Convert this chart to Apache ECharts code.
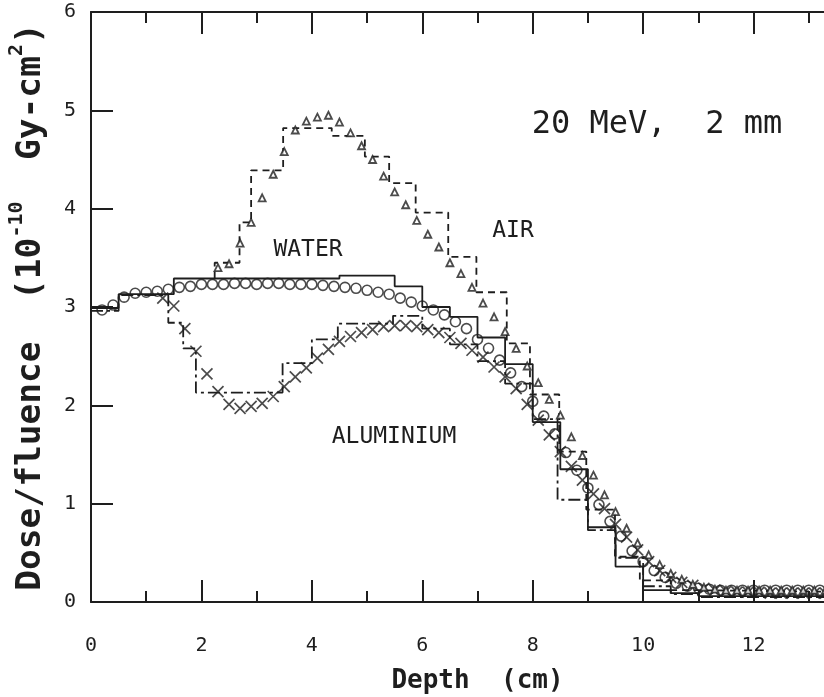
<!DOCTYPE html>
<html><head><meta charset="utf-8">
<script src="https://cdn.jsdelivr.net/npm/echarts@6/dist/echarts.min.js"></script>
<style>html,body{margin:0;padding:0;background:#fff}#c{width:824px;height:697px}</style>
</head><body><div id="c"></div>
<script>
// ---- tick labels ----
const xTickLabels = ['0','2','4','6','8','10','12','14'];
const yTickLabels = ['0','1','2','3','4','5','6'];

// ---- WATER Monte Carlo points (circles) ----
const waterDepth = [0.2,0.4,0.6,0.8,1.0,1.2,1.4,1.6,1.8,2.0,2.2,2.4,2.6,2.8,3.0,3.2,3.4,3.6,3.8,4.0,4.2,4.4,4.6,4.8,5.0,5.2,5.4,5.6,5.8,6.0,6.2,6.4,6.6,6.8,7.0,7.2,7.4,7.6,7.8,8.0,8.2,8.4,8.6,8.8,9.0,9.2,9.4,9.6,9.8,10.0,10.2,10.4,10.6,10.8,11.0,11.2,11.4,11.6,11.8,12.0,12.2,12.4,12.6,12.8,13.0,13.2,13.4];
const waterDose  = [2.97,3.02,3.10,3.14,3.15,3.16,3.18,3.20,3.21,3.23,3.23,3.23,3.24,3.24,3.23,3.24,3.24,3.23,3.23,3.23,3.22,3.21,3.20,3.19,3.17,3.15,3.13,3.09,3.05,3.01,2.97,2.92,2.85,2.78,2.67,2.58,2.46,2.33,2.19,2.04,1.89,1.71,1.52,1.34,1.16,0.99,0.82,0.67,0.52,0.41,0.32,0.25,0.19,0.16,0.14,0.13,0.12,0.12,0.12,0.12,0.12,0.12,0.12,0.12,0.12,0.12,0.12];

// ---- ALUMINIUM points (crosses) ----
const alDepth = [1.3,1.5,1.7,1.9,2.1,2.3,2.5,2.7,2.9,3.1,3.3,3.5,3.7,3.9,4.1,4.3,4.5,4.7,4.9,5.1,5.3,5.5,5.7,5.9,6.1,6.3,6.5,6.7,6.9,7.1,7.3,7.5,7.7,7.9,8.1,8.3,8.5,8.7,8.9,9.1,9.3,9.5,9.7,9.9,10.1,10.3,10.5,10.7,10.9,11.1,11.3,11.5,11.7,11.9,12.1,12.3,12.5,12.7,12.9,13.1,13.3];
const alDose  = [3.09,3.01,2.78,2.55,2.32,2.14,2.01,1.97,1.99,2.02,2.09,2.19,2.29,2.38,2.48,2.57,2.65,2.70,2.74,2.77,2.80,2.81,2.81,2.80,2.77,2.74,2.69,2.63,2.56,2.49,2.39,2.29,2.17,2.01,1.85,1.70,1.53,1.38,1.24,1.10,0.95,0.79,0.66,0.53,0.41,0.32,0.25,0.20,0.17,0.14,0.12,0.11,0.10,0.10,0.10,0.09,0.09,0.09,0.09,0.09,0.09];

// ---- AIR points (triangles) ----
const airDepth = [2.3,2.5,2.7,2.9,3.1,3.3,3.5,3.7,3.9,4.1,4.3,4.5,4.7,4.9,5.1,5.3,5.5,5.7,5.9,6.1,6.3,6.5,6.7,6.9,7.1,7.3,7.5,7.7,7.9,8.1,8.3,8.5,8.7,8.9,9.1,9.3,9.5,9.7,9.9,10.1,10.3,10.5,10.7,10.9,11.1,11.3,11.5,11.7,11.9,12.1,12.3,12.5,12.7,12.9,13.1,13.3];
const airDose  = [3.40,3.44,3.65,3.86,4.11,4.35,4.58,4.80,4.89,4.93,4.95,4.88,4.77,4.64,4.50,4.33,4.17,4.04,3.88,3.74,3.61,3.45,3.34,3.20,3.04,2.90,2.75,2.58,2.40,2.23,2.06,1.90,1.68,1.49,1.29,1.09,0.92,0.75,0.60,0.48,0.38,0.29,0.23,0.18,0.15,0.13,0.12,0.12,0.12,0.12,0.12,0.12,0.12,0.12,0.12,0.12];

// ---- histograms (bin edges and bin values) ----
const waterHistEdges = [0,0.5,1.5,4.5,5.5,6.0,6.5,7.0,7.5,8.0,8.5,9.0,9.5,10.0,10.5,11.0,14];
const waterHistDose  = [2.99,3.13,3.29,3.32,3.21,3.00,2.90,2.69,2.42,1.83,1.35,0.76,0.36,0.12,0.09,0.06];

const airHistEdges = [2.24,2.69,2.9,3.48,4.36,4.96,5.4,5.88,6.47,6.98,7.53,7.95,8.48,8.97,9.49,9.94,10.5,11.0,14];
const airHistDose  = [3.45,3.86,4.39,4.82,4.74,4.53,4.26,3.96,3.51,3.15,2.63,2.11,1.53,0.94,0.46,0.22,0.12,0.10];
const airHistJoinDose = 3.29;

const alHistEdges = [0,0.5,1.4,1.67,1.9,3.47,4.0,4.47,5.47,6.0,6.5,7.0,7.5,8.0,8.45,9.0,9.5,10.0,10.5,11.0,14];
const alHistDose  = [2.96,3.12,2.84,2.58,2.13,2.43,2.67,2.83,2.91,2.78,2.62,2.45,2.22,1.86,1.04,0.73,0.45,0.16,0.08,0.05];

function zip(xs, ys){ return xs.map((x,i)=>[x, ys[i]]); }
function steps(edges, vals){
  const p=[];
  for(let i=0;i<vals.length;i++){ p.push([edges[i],vals[i]]); p.push([edges[i+1],vals[i]]); }
  return p;
}
const airSteps = [[airHistEdges[0], airHistJoinDose]].concat(steps(airHistEdges, airHistDose));

const INK = '#1e1e1e';
const MONO = '"DejaVu Sans Mono", "Liberation Mono", monospace';

const chart = echarts.init(document.getElementById('c'), null, {renderer:'canvas'});

function xAx(pos, labels){
  return {
    type:'value', min:0, max:14, interval:2, position:pos, gridIndex:0,
    axisLine:{show:true, onZero:false, lineStyle:{color:INK, width:2}},
    axisTick:{show:true, inside:true, length:22, lineStyle:{color:INK, width:2}},
    minorTick:{show:true, splitNumber:2, length:11, lineStyle:{color:INK, width:2}},
    splitLine:{show:false}, minorSplitLine:{show:false},
    axisLabel:{show:labels, margin:34, fontSize:20, color:INK, fontFamily:MONO,
      formatter:(v)=>xTickLabels[Math.round(v/2)]},
    name: labels ? 'Depth  (cm)' : '', nameLocation:'middle', nameGap:66,
    nameTextStyle:{fontSize:26, fontWeight:'bold', color:INK, fontFamily:MONO}
  };
}

chart.setOption({
  animation:false,
  backgroundColor:'#ffffff',
  grid:{left:91, top:12, width:773, height:590, containLabel:false, outerBoundsMode:'none'},
  xAxis:[xAx('bottom', true), xAx('top', false)],
  yAxis:{
    type:'value', min:0, max:6, interval:1,
    axisLine:{show:true, onZero:false, lineStyle:{color:INK, width:2}},
    axisTick:{show:true, inside:true, length:22, lineStyle:{color:INK, width:2}},
    splitLine:{show:false},
    axisLabel:{margin:15, fontSize:20, color:INK, fontFamily:MONO, formatter:(v)=>yTickLabels[Math.round(v)]},
    name:'{a|Dose/fluence  (10}{s|-10}{a|  Gy-cm}{s|2}{a|)}',
    nameLocation:'middle', nameRotate:90, nameGap:42,
    nameTextStyle:{
      color:INK, fontFamily:MONO,
      rich:{
        a:{fontSize:34.5, fontWeight:'bold', fontFamily:MONO, color:INK, lineHeight:42, verticalAlign:'bottom'},
        s:{fontSize:20, fontWeight:'bold', fontFamily:MONO, color:INK, lineHeight:42, verticalAlign:'top'}
      }
    }
  },
  series:[
    {type:'line', name:'water MC histogram', data:steps(waterHistEdges, waterHistDose), showSymbol:false, symbol:'none',
     lineStyle:{color:INK, width:1.8, type:'solid'}, z:2},
    {type:'line', name:'air histogram', data:airSteps, showSymbol:false, symbol:'none',
     lineStyle:{color:INK, width:1.8, type:[7,5]}, z:2},
    {type:'line', name:'aluminium histogram', data:steps(alHistEdges, alHistDose), showSymbol:false, symbol:'none',
     lineStyle:{color:INK, width:1.8, type:[12,4,3,4]}, z:2},
    {type:'scatter', name:'WATER', data:zip(waterDepth, waterDose), symbol:'circle', symbolSize:10,
     itemStyle:{color:'rgba(0,0,0,0)', borderColor:INK, borderWidth:1.6}, z:3},
    {type:'scatter', name:'ALUMINIUM', data:zip(alDepth, alDose), symbol:'path://M0,0L10,10M10,0L0,10', symbolSize:11,
     itemStyle:{color:'rgba(0,0,0,0)', borderColor:INK, borderWidth:1.7}, z:3},
    {type:'scatter', name:'AIR', data:zip(airDepth, airDose), symbol:'triangle', symbolSize:7,
     itemStyle:{color:'#ffffff', borderColor:INK, borderWidth:1.8}, z:4}
  ],
  graphic:[
    {type:'text', x:657, y:125, style:{text:'20 MeV,  2 mm', font:'32px '+MONO, fill:INK, textAlign:'center', textVerticalAlign:'middle', align:'center', verticalAlign:'middle'}},
    {type:'text', x:308, y:250, style:{text:'WATER', font:'23px '+MONO, fill:INK, textAlign:'center', textVerticalAlign:'middle', align:'center', verticalAlign:'middle'}},
    {type:'text', x:513, y:231, style:{text:'AIR', font:'23px '+MONO, fill:INK, textAlign:'center', textVerticalAlign:'middle', align:'center', verticalAlign:'middle'}},
    {type:'text', x:394, y:437, style:{text:'ALUMINIUM', font:'23px '+MONO, fill:INK, textAlign:'center', textVerticalAlign:'middle', align:'center', verticalAlign:'middle'}}
  ]
});
</script>
</body></html>
